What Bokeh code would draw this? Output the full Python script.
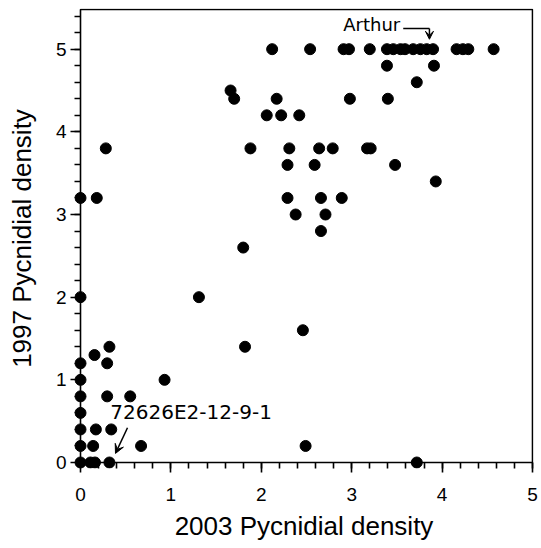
import math
from bokeh.plotting import figure
from bokeh.models import Range1d, FixedTicker, BoxAnnotation, Label, Arrow, VeeHead, ColumnDataSource
from bokeh.embed import file_html
from bokeh.resources import INLINE

# ---- data: 2003 vs 1997 pycnidial density ----
x2003 = [
    2.12, 2.54, 2.91, 2.97, 3.20, 3.39, 3.46, 3.54, 3.59, 3.68, 3.76, 3.83, 3.90, 4.16, 4.23, 4.29, 4.57,
    3.39, 3.91,
    3.72,
    1.66,
    1.70, 2.17, 2.98, 3.40,
    2.06, 2.22, 2.42,
    0.28, 1.88, 2.31, 2.64, 2.79, 3.17, 3.21,
    2.29, 2.59, 3.48,
    3.93,
    0.0, 0.18, 2.29, 2.66, 2.89,
    2.38, 2.71,
    2.66,
    1.80,
    0.0, 1.31,
    2.46,
    0.32, 1.82,
    0.155,
    0.0, 0.295,
    0.0, 0.93,
    0.0, 0.295, 0.55,
    0.0,
    0.0, 0.17, 0.34,
    0.0, 0.14, 0.67, 2.49,
    0.0, 0.11, 0.16, 0.32, 3.72,
]
y1997 = (
    [5.0] * 17
    + [4.8] * 2
    + [4.6]
    + [4.5]
    + [4.4] * 4
    + [4.2] * 3
    + [3.8] * 7
    + [3.6] * 3
    + [3.4]
    + [3.2] * 5
    + [3.0] * 2
    + [2.8]
    + [2.6]
    + [2.0] * 2
    + [1.6]
    + [1.4] * 2
    + [1.3]
    + [1.2] * 2
    + [1.0] * 2
    + [0.8] * 3
    + [0.6]
    + [0.4] * 3
    + [0.2] * 4
    + [0.0] * 5
)

x_major = [0, 1, 2, 3, 4, 5]
x_minor = [round(i * 0.2, 1) for i in range(0, 26)]
y_major = [0, 1, 2, 3, 4, 5]
y_minor = [round(i * 0.2, 1) for i in range(0, 28)]

x_title = "2003 Pycnidial density"
y_title = "1997 Pycnidial density"
note_top = "Arthur"
note_bottom = "72626E2-12-9-1"

X_MAX, Y_MAX = 5.0, 5.48

# frame geometry (pixels)
FW, FH = 459, 460
PAD_LO, PAD_HI = 6, 1
sx = (FW - PAD_LO - PAD_HI) / X_MAX
sy = (FH - PAD_LO - PAD_HI) / Y_MAX

src = ColumnDataSource(data=dict(x=x2003, y=y1997))

p = figure(
    width=541, height=548,
    x_range=Range1d(-PAD_LO / sx, X_MAX + PAD_HI / sx),
    y_range=Range1d(-PAD_LO / sy, Y_MAX + PAD_HI / sy),
    output_backend="svg", toolbar_location=None,
    min_border_left=74, min_border_right=8, min_border_top=8, min_border_bottom=80,
)
p.outline_line_color = None
p.xgrid.visible = False
p.ygrid.visible = False
p.background_fill_color = "white"
p.border_fill_color = "white"

p.scatter("x", "y", source=src, size=11, fill_color="black", line_color="black")

for ax, major, minor in ((p.xaxis[0], x_major, x_minor), (p.yaxis[0], y_major, y_minor)):
    ax.ticker = FixedTicker(ticks=major, minor_ticks=minor)
    ax.axis_line_color = None
    ax.major_tick_line_width = 1.6
    ax.minor_tick_line_width = 1.6
    ax.major_tick_line_color = "black"
    ax.minor_tick_line_color = "black"
    ax.major_tick_in = PAD_LO
    ax.major_tick_out = 4
    ax.minor_tick_in = PAD_LO
    ax.minor_tick_out = 0
    ax.major_label_text_font = "Liberation Sans"
    ax.major_label_text_font_size = "19px"
    ax.major_label_text_color = "black"
    ax.axis_label_text_font = "Liberation Sans"
    ax.axis_label_text_font_size = "26px"
    ax.axis_label_text_font_style = "normal"
    ax.axis_label_text_color = "black"

p.xaxis[0].axis_label = x_title
p.yaxis[0].axis_label = y_title
p.xaxis[0].major_label_standoff = 15
p.xaxis[0].axis_label_standoff = 7
p.yaxis[0].major_label_standoff = 4
p.yaxis[0].axis_label_standoff = 16

# frame box: axes lines at 0 plus top and right borders
p.add_layout(BoxAnnotation(left=0, right=X_MAX, bottom=0, top=Y_MAX,
                           fill_alpha=0, line_alpha=1.0,
                           line_color="black", line_width=1.6))

# annotations
p.add_layout(Label(x=2.906, y=5.30, text=note_top, text_align="left",
                   text_baseline="alphabetic", text_font="DejaVu Sans",
                   text_font_size="18px", text_color="black"))
p.add_layout(Arrow(end=None, x_start=3.57, y_start=5.25, x_end=3.86, y_end=5.25,
                   line_color="black", line_width=1.5))
p.add_layout(Arrow(end=VeeHead(size=8, fill_color="black", line_color="black", line_width=1),
                   x_start=3.86, y_start=5.25, x_end=3.86, y_end=5.12,
                   line_color="black", line_width=1.5))

p.add_layout(Label(x=0.33, y=0.61, text=note_bottom, text_align="left",
                   text_baseline="alphabetic", text_font="DejaVu Sans",
                   text_font_size="20px", text_color="black"))
p.add_layout(Arrow(end=VeeHead(size=9, fill_color="black", line_color="black", line_width=1),
                   x_start=0.52, y_start=0.42, x_end=0.387, y_end=0.11,
                   line_color="black", line_width=1.5))

open("out.html", "w").write(file_html(p, INLINE))
